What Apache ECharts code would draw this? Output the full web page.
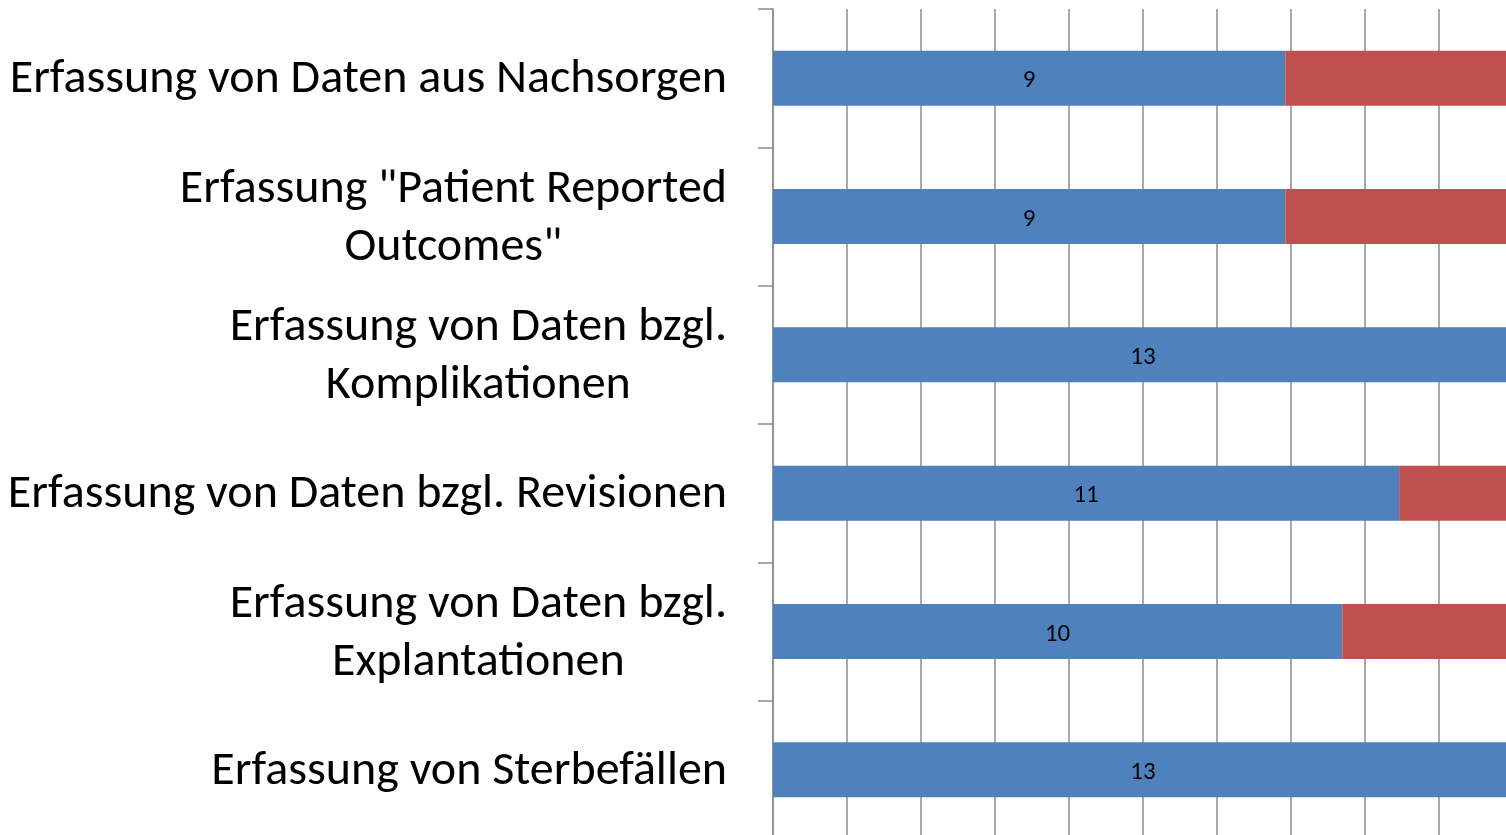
<!DOCTYPE html>
<html>
<head>
<meta charset="utf-8">
<script src="https://cdn.jsdelivr.net/npm/echarts@6/dist/echarts.min.js"></script>
<style>
html,body{margin:0;padding:0;background:#fff;}
#chart{width:1506px;height:835px;}
</style>
</head>
<body>
<div id="chart"></div>
<script>
const categories = [
  'Erfassung von Daten aus Nachsorgen',
  'Erfassung "Patient Reported\nOutcomes"',
  'Erfassung von Daten bzgl.\nKomplikationen',
  'Erfassung von Daten bzgl. Revisionen',
  'Erfassung von Daten bzgl.\nExplantationen',
  'Erfassung von Sterbefällen'
];
const yesValues = [9, 9, 13, 11, 10, 13];
const noValues = [4, 4, 0, 2, 3, 0];
const axisMax = 13;
const axisInterval = 1.3;

const chart = echarts.init(document.getElementById('chart'), null, {renderer: 'canvas'});
const labelFont = 'Carlito, Calibri, Lato, sans-serif';
chart.setOption({
  animation: false,
  backgroundColor: '#ffffff',
  grid: {left: 773, top: 9, width: 740, height: 830, containLabel: false, outerBoundsMode: 'none'},
  xAxis: {
    type: 'value', min: 0, max: axisMax, interval: axisInterval,
    axisLine: {show: false}, axisTick: {show: false}, axisLabel: {show: false},
    splitLine: {show: true, lineStyle: {color: '#8c8c8c', width: 1.5}}
  },
  yAxis: {
    type: 'category', data: categories, inverse: true,
    axisLine: {show: true, lineStyle: {color: '#8c8c8c', width: 1.5}},
    axisTick: {show: true, length: 15, inside: false, lineStyle: {color: '#8c8c8c', width: 1.5}},
    axisLabel: {
      margin: 46,
      color: '#000',
      formatter: v => v.split('\n').map(l => '{c|' + l + '}').join('\n'),
      rich: {c: {align: 'center', fontSize: 48, lineHeight: 58, fontFamily: labelFont, color: '#000', padding: [4, 0, 0, 0]}}
    },
    splitLine: {show: false}
  },
  series: [
    {
      name: 'Ja', type: 'bar', stack: 'total', data: yesValues, barWidth: 55,
      itemStyle: {color: '#4f81bd'},
      label: {show: true, position: 'inside', color: '#000', fontSize: 25, fontFamily: labelFont, offset: [0, 3]}
    },
    {
      name: 'Nein', type: 'bar', stack: 'total', data: noValues, barWidth: 55,
      itemStyle: {color: '#c0504d'},
      label: {show: false}
    }
  ]
});
</script>
</body>
</html>
